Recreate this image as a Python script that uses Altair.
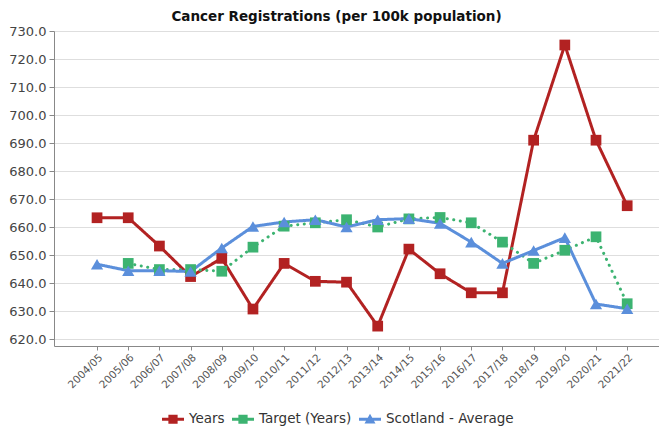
import altair as alt
import pandas as pd

periods = ["2004/05", "2005/06", "2006/07", "2007/08", "2008/09", "2009/10",
           "2010/11", "2011/12", "2012/13", "2013/14", "2014/15", "2015/16",
           "2016/17", "2017/18", "2018/19", "2019/20", "2020/21", "2021/22"]

years = [663.3, 663.3, 653.2, 642.3, 648.8, 630.7, 647.0, 640.6, 640.3, 624.6,
         652.1, 643.3, 636.5, 636.5, 691.0, 725.0, 691.0, 667.6]
target = [None, 647.0, 644.8, 644.8, 644.2, 652.8, 660.3, 661.5, 662.6, 660.0,
          662.9, 663.4, 661.5, 654.6, 647.0, 651.7, 656.5, 632.6]
scotland = [646.7, 644.4, 644.4, 644.1, 652.5, 660.2, 661.8, 662.6, 660.0, 662.6,
            663.0, 661.3, 654.6, 647.0, 651.6, 656.2, 632.5, 630.8]

series_names = ["Years", "Target (Years)", "Scotland - Average"]
series_colors = ["#B22222", "#3CB371", "#5B8FDB"]
y_ticks = [620, 630, 640, 650, 660, 670, 680, 690, 700, 710, 720, 730]

rows = []
for name, vals in zip(series_names, [years, target, scotland]):
    for i, (p, v) in enumerate(zip(periods, vals)):
        if v is not None:
            rows.append({"idx": i, "period": p, "value": v, "series": name})
df = pd.DataFrame(rows)

# legend symbols: a short line with the marker on it
legend_paths = [
    "M-1,-0.13H1V0.13H-1Z M-0.42,-0.42H0.42V0.42H-0.42Z",
    "M-1,-0.13H1V0.13H-1Z M-0.42,-0.42H0.42V0.42H-0.42Z",
    "M-1,-0.13H1V0.13H-1Z M0,-0.5L0.5,0.38H-0.5Z",
]

label_expr = "[" + ",".join("'%s'" % p for p in periods) + "][datum.value]"

x_enc = alt.X("idx:Q",
              scale=alt.Scale(domain=[-1.38, 18.02], nice=False, zero=False),
              axis=alt.Axis(title=None, values=list(range(len(periods))),
                            labelExpr=label_expr, labelAngle=315,
                            labelFontSize=10.5, labelColor="#555", tickSize=4,
                            tickColor="#888", domainColor="#888", grid=False,
                            labelPadding=2, labelOverlap=False, labelBound=False,
                            labelFlush=False))
y_enc = alt.Y("value:Q",
              scale=alt.Scale(domain=[617.5, 730], nice=False, zero=False),
              axis=alt.Axis(title=None, values=y_ticks, format=".1f",
                            labelFontSize=13, labelColor="#444", tickSize=5,
                            tickColor="#888", domainColor="#888",
                            gridColor="#dedede", labelPadding=3))
color_enc = alt.Color("series:N",
                      scale=alt.Scale(domain=series_names, range=series_colors),
                      legend=alt.Legend(title=None))

base = alt.Chart(df)

lines = base.mark_line(strokeWidth=3, strokeCap="round", strokeJoin="round").encode(
    x=x_enc, y=y_enc, color=color_enc,
    strokeDash=alt.StrokeDash("series:N",
                              scale=alt.Scale(domain=series_names,
                                              range=[[1, 0], [0.1, 6.5], [1, 0]]),
                              legend=None),
)

squares = base.mark_point(filled=True, opacity=1, size=115, shape="square").encode(
    x=x_enc, y=y_enc, color=color_enc,
).transform_filter(alt.datum.series != "Scotland - Average")

triangles = base.mark_point(filled=True, opacity=1, size=150, shape="triangle-up").encode(
    x=x_enc, y=y_enc, color=color_enc,
).transform_filter(alt.datum.series == "Scotland - Average")

legend_layer = base.mark_point(filled=True, opacity=1).encode(
    color=color_enc,
    shape=alt.Shape("series:N",
                    scale=alt.Scale(domain=series_names, range=legend_paths),
                    legend=alt.Legend(title=None)),
).transform_filter("false")

chart = alt.layer(lines, squares, triangles, legend_layer).properties(
    width=605, height=315,
    padding={"left": 46, "top": 23, "right": 0, "bottom": 80},
    autosize=alt.AutoSizeParams(type="none"),
    title=alt.TitleParams("Cancer Registrations (per 100k population)",
                          fontSize=13.5, fontWeight="bold", color="#111",
                          anchor="middle", offset=2, dx=-20),
).configure(font="DejaVu Sans").configure_view(stroke=None).configure_legend(
    orient="none", legendX=108, legendY=377, direction="horizontal",
    symbolSize=484, symbolStrokeWidth=0,
    symbolOpacity=1, labelFontSize=13.5, labelColor="#333", columnPadding=7,
    labelOffset=5,
)

chart.save("out.html", embed_options={"renderer": "svg", "actions": False})
